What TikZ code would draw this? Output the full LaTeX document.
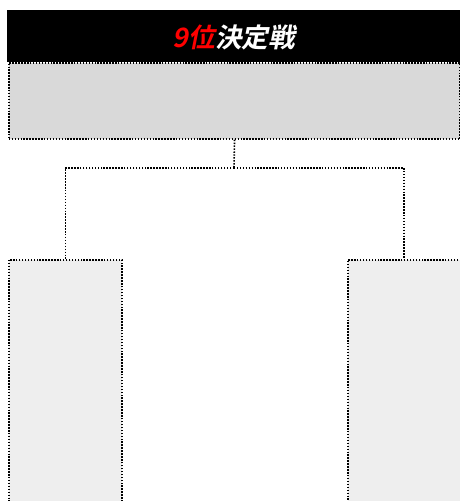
\documentclass[tikz,border=0pt]{standalone}
\usepackage{fontspec}
\newfontfamily\cjkb{Noto Sans CJK JP Bold}[FakeSlant=0.2]
\definecolor{finalgray}{HTML}{D9D9D9}
\definecolor{semigray}{HTML}{EEEEEE}
\begin{document}
\begin{tikzpicture}[x=0.75pt,y=-0.75pt,
    dotline/.style={line width=1.2pt,dash pattern=on 1.1pt off 1.1pt,draw=black},
    box/.style={dotline,anchor=north west,inner sep=0pt}]
    \useasboundingbox (0,0) rectangle (460,501);
    \clip (0,0) rectangle (460,501);
    % title bar
    \node[fill=black,anchor=north west,inner sep=0pt,minimum width=339.75pt,minimum height=39pt] (title) at (7,10) {};
    \node[font=\cjkb\fontsize{20}{20}\selectfont] (titletext) at (234,37) {\textcolor{red}{9位}\textcolor{white}{決定戦}};
    % final and semifinal boxes
    \node[box,fill=finalgray,minimum width=338.6pt,minimum height=57pt] (final) at (8,62) {};
    \node[box,fill=semigray,minimum width=84.75pt,minimum height=211pt] (left) at (8,259) {};
    \node[box,fill=semigray,minimum width=84.4pt,minimum height=211pt] (right) at (347,259) {};
    % bracket
    \coordinate (fork) at (234,168);
    \draw[dotline] (final.south) -- (fork);
    \draw[dotline] (fork) -| (left.north);
    \draw[dotline] (fork) -| (right.north);
\end{tikzpicture}
\end{document}
